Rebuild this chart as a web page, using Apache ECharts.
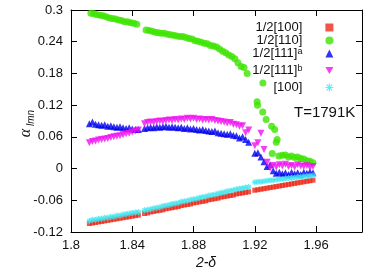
<!DOCTYPE html>
<html>
<head>
<meta charset="utf-8">
<script src="https://cdn.jsdelivr.net/npm/echarts@6/dist/echarts.min.js"></script>
<style>html,body{margin:0;padding:0;background:#fff;}#c{width:370px;height:277px;}</style>
</head>
<body>
<div id="c"></div>
<script>
// shared x grid (2-delta) for 1/2[100], 1/2[111]a, 1/2[111]b, [100]
const delta = [
  1.812,1.814,1.816,1.818,1.820,1.822,1.824,1.826,1.828,1.830,1.832,1.834,1.836,1.838,1.840,1.842,1.844,
  1.848,1.850,1.852,1.854,1.856,1.858,1.860,1.862,1.864,1.866,1.868,1.870,1.872,1.874,1.876,1.878,1.880,1.882,1.884,1.886,1.888,1.890,1.892,1.894,1.896,1.898,1.900,1.902,1.904,1.906,1.908,1.910,1.912,1.914,1.916,
  1.920,1.922,1.924,1.926,1.928,1.930,1.932,1.934,1.936,1.938,1.940,1.942,1.944,1.946,1.948,1.950,1.952,1.954,1.956,1.958
];
const half100 = [
  -0.104,-0.103,-0.102,-0.101,-0.100,-0.099,-0.098,-0.097,-0.096,-0.095,-0.094,-0.093,-0.092,-0.091,-0.090,-0.089,-0.088,
  -0.085,-0.084,-0.082,-0.081,-0.080,-0.079,-0.078,-0.076,-0.075,-0.074,-0.073,-0.072,-0.070,-0.069,-0.068,-0.067,-0.065,-0.064,-0.063,-0.062,-0.061,-0.059,-0.058,-0.057,-0.056,-0.054,-0.053,-0.052,-0.051,-0.050,-0.048,-0.047,-0.046,-0.045,-0.044,
  -0.041,-0.040,-0.039,-0.038,-0.037,-0.036,-0.035,-0.034,-0.033,-0.032,-0.031,-0.030,-0.029,-0.028,-0.027,-0.026,-0.025,-0.024,-0.023,-0.022
];
const half111a = [
  0.085,0.088,0.084,0.083,0.082,0.083,0.080,0.081,0.079,0.078,0.079,0.077,0.076,0.077,0.075,0.074,0.074,
  0.076,0.077,0.078,0.077,0.079,0.078,0.079,0.080,0.078,0.079,0.078,0.077,0.078,0.076,0.077,0.075,0.076,0.074,0.073,0.074,0.072,0.071,0.070,0.071,0.068,0.067,0.066,0.065,0.066,0.063,0.062,0.058,0.060,0.055,0.050,
  0.029,0.030,0.022,0.013,0.004,0.007,-0.004,-0.009,-0.007,-0.010,-0.008,-0.011,-0.007,-0.010,-0.008,-0.011,-0.007,-0.009,-0.006,-0.008
];
const half111b = [
  0.049,0.051,0.052,0.054,0.055,0.056,0.057,0.059,0.060,0.061,0.062,0.064,0.066,0.067,0.069,0.071,0.073,
  0.085,0.087,0.088,0.087,0.089,0.090,0.089,0.091,0.092,0.091,0.093,0.092,0.094,0.093,0.095,0.094,0.095,0.093,0.094,0.092,0.093,0.092,0.093,0.091,0.090,0.089,0.088,0.086,0.087,0.084,0.083,0.080,0.081,0.068,0.073,
  0.043,0.049,0.067,0.036,0.012,0.001,0.006,0.003,0.007,0.005,0.008,0.004,0.006,0.003,0.007,0.005,0.004,0.006,0.002,0.004
];
const full100 = [
  -0.099,-0.097,-0.097,-0.095,-0.095,-0.093,-0.093,-0.091,-0.091,-0.089,-0.089,-0.087,-0.086,-0.085,-0.084,-0.083,-0.082,
  -0.079,-0.078,-0.077,-0.075,-0.074,-0.073,-0.071,-0.070,-0.069,-0.067,-0.066,-0.065,-0.063,-0.062,-0.061,-0.059,-0.058,-0.057,-0.055,-0.054,-0.053,-0.051,-0.050,-0.049,-0.047,-0.046,-0.045,-0.043,-0.042,-0.041,-0.039,-0.038,-0.037,-0.036,-0.035,
  -0.026,-0.025,-0.025,-0.024,-0.023,-0.022,-0.022,-0.021,-0.020,-0.020,-0.019,-0.018,-0.018,-0.017,-0.016,-0.016,-0.015,-0.014,-0.014,-0.013
];
// 1/2[110] has its own x positions
const delta110 = [
  1.813,1.815,1.817,1.819,1.821,1.823,1.825,1.827,1.829,1.831,1.833,1.835,1.837,1.839,1.841,1.843,
  1.849,1.851,1.853,1.855,1.857,1.859,1.861,1.863,1.865,1.867,1.869,1.871,1.873,1.875,1.877,1.879,1.881,1.883,1.885,1.887,1.889,1.891,1.893,1.895,1.897,1.899,1.901,1.903,1.905,1.907,1.909,1.911,1.913,1.915,
  1.9215,1.9218,1.9253,1.9252,1.9274,1.931,1.933,1.9346,1.934,1.9314,1.9357,1.938,1.940,1.942,1.944,1.946,1.948,1.950,1.952,1.954,1.956,1.958
];
const half110 = [
  0.294,0.293,0.291,0.290,0.289,0.287,0.285,0.284,0.283,0.281,0.280,0.278,0.278,0.276,0.275,0.273,
  0.262,0.261,0.260,0.258,0.257,0.256,0.256,0.254,0.253,0.252,0.251,0.250,0.250,0.248,0.246,0.245,0.242,0.241,0.239,0.237,0.236,0.233,0.232,0.230,0.226,0.222,0.219,0.215,0.212,0.208,0.200,0.193,0.191,0.180,
  0.1265,0.120,0.162,0.107,0.093,0.080,0.074,0.055,0.050,0.0287,0.0237,0.025,0.0255,0.022,0.024,0.021,0.022,0.019,0.018,0.015,0.014,0.011
];
const xTicks = { min: 1.8, max: 1.99, interval: 0.04 };
const yTicks = { min: -0.12, max: 0.3, interval: 0.06 };
const seriesNames = ['1/2[100]', '1/2[110]', '1/2[111]a', '1/2[111]b', '[100]'];
const legendLabels = {
  '1/2[100]': '1/2[100]',
  '1/2[110]': '1/2[110]',
  '1/2[111]a': '1/2[111]{sup|a}',
  '1/2[111]b': '1/2[111]{sup|b}',
  '[100]': '[100]'
};

const FONT = "'Liberation Sans', Arial, sans-serif";
const fmt = v => String(+(+v).toFixed(2));
const pairs = (xs, ys) => xs.map((x, i) => [x, ys[i]]);
const tick = { show: true, inside: true, length: 6, lineStyle: { color: '#000', width: 1 } };
const line = { show: true, onZero: false, lineStyle: { color: '#000', width: 1 } };
const starPath = 'path://M0,5L10,5M5,0L5,10M1.5,1.5L8.5,8.5M8.5,1.5L1.5,8.5';

const chart = echarts.init(document.getElementById('c'), null, { renderer: 'canvas' });
chart.setOption({
  animation: false,
  backgroundColor: '#fff',
  grid: { left: 71, right: 8, top: 10, bottom: 45, containLabel: false },
  xAxis: [
    { type: 'value', min: xTicks.min, max: xTicks.max, interval: xTicks.interval, position: 'bottom',
      axisLine: line, axisTick: tick, splitLine: { show: false },
      axisLabel: { color: '#111', fontSize: 13, fontFamily: FONT, margin: 7, showMaxLabel: false, formatter: fmt } },
    { type: 'value', min: xTicks.min, max: xTicks.max, interval: xTicks.interval, position: 'top',
      axisLine: line, axisTick: tick, splitLine: { show: false }, axisLabel: { show: false } }
  ],
  yAxis: [
    { type: 'value', min: yTicks.min, max: yTicks.max, interval: yTicks.interval, position: 'left',
      axisLine: line, axisTick: tick, splitLine: { show: false },
      axisLabel: { color: '#111', fontSize: 13, fontFamily: FONT, margin: 8, formatter: fmt } },
    { type: 'value', min: yTicks.min, max: yTicks.max, interval: yTicks.interval, position: 'right',
      axisLine: line, axisTick: tick, splitLine: { show: false }, axisLabel: { show: false } }
  ],
  legend: {
    orient: 'vertical', right: 31, top: 16, align: 'right',
    itemWidth: 8, itemHeight: 8, itemGap: 0,
    data: [
      { name: seriesNames[0], icon: 'rect', itemStyle: { color: '#ee2a1a' } },
      { name: seriesNames[1], icon: 'circle', itemStyle: { color: '#3ce400' } },
      { name: seriesNames[2], icon: 'triangle', itemStyle: { color: '#0000ee' } },
      { name: seriesNames[3], icon: 'path://M0,0L10,0L5,9Z', itemStyle: { color: '#f010f0' } },
      { name: seriesNames[4], icon: starPath, itemStyle: { color: 'rgba(0,0,0,0)', borderColor: '#3ee6ee', borderWidth: 1.2 } }
    ],
    formatter: n => legendLabels[n],
    textStyle: { color: '#111', fontSize: 13, fontFamily: FONT, lineHeight: 13, padding: [0, 18, 0, 0],
      rich: { sup: { fontSize: 9, fontFamily: FONT, color: '#111', verticalAlign: 'top', lineHeight: 13, padding: [0, 0, 8, 0] } } }
  },
  graphic: [
    { type: 'text', left: 294, top: 105, style: { text: 'T=1791K', font: '15px ' + FONT, fill: '#111' } },
    { type: 'text', x: 206, y: 263, style: { text: '2-\u03b4', font: 'italic 14px ' + FONT, fill: '#111', textAlign: 'center', textVerticalAlign: 'middle' } },
    { type: 'group', x: 27, y: 123, rotation: Math.PI / 2, children: [
      { type: 'text', x: -10, y: -1, style: { text: '\u03b1', font: 'italic 16px "Liberation Serif", serif', fill: '#111', textAlign: 'center', textVerticalAlign: 'middle' } },
      { type: 'text', x: -3, y: 4, style: { text: 'lmn', font: 'italic 10px ' + FONT, fill: '#111', textAlign: 'left', textVerticalAlign: 'middle' } }
    ] }
  ],
  series: [
    { name: seriesNames[0], type: 'scatter', symbol: 'rect', symbolSize: 5,
      itemStyle: { color: '#ee2a1a' }, data: pairs(delta, half100) },
    { name: seriesNames[1], type: 'scatter', symbol: 'circle', symbolSize: 7,
      itemStyle: { color: '#3ce400' }, data: pairs(delta110, half110) },
    { name: seriesNames[2], type: 'scatter', symbol: 'triangle', symbolSize: 7,
      itemStyle: { color: '#0000ee' }, data: pairs(delta, half111a) },
    { name: seriesNames[3], type: 'scatter', symbol: 'triangle', symbolRotate: 180, symbolSize: 7,
      itemStyle: { color: '#f010f0' }, data: pairs(delta, half111b) },
    { name: seriesNames[4], type: 'scatter', symbol: starPath, symbolSize: 6,
      itemStyle: { color: 'rgba(0,0,0,0)', borderColor: '#3ee6ee', borderWidth: 1.2 }, data: pairs(delta, full100) }
  ]
});
</script>
</body>
</html>
